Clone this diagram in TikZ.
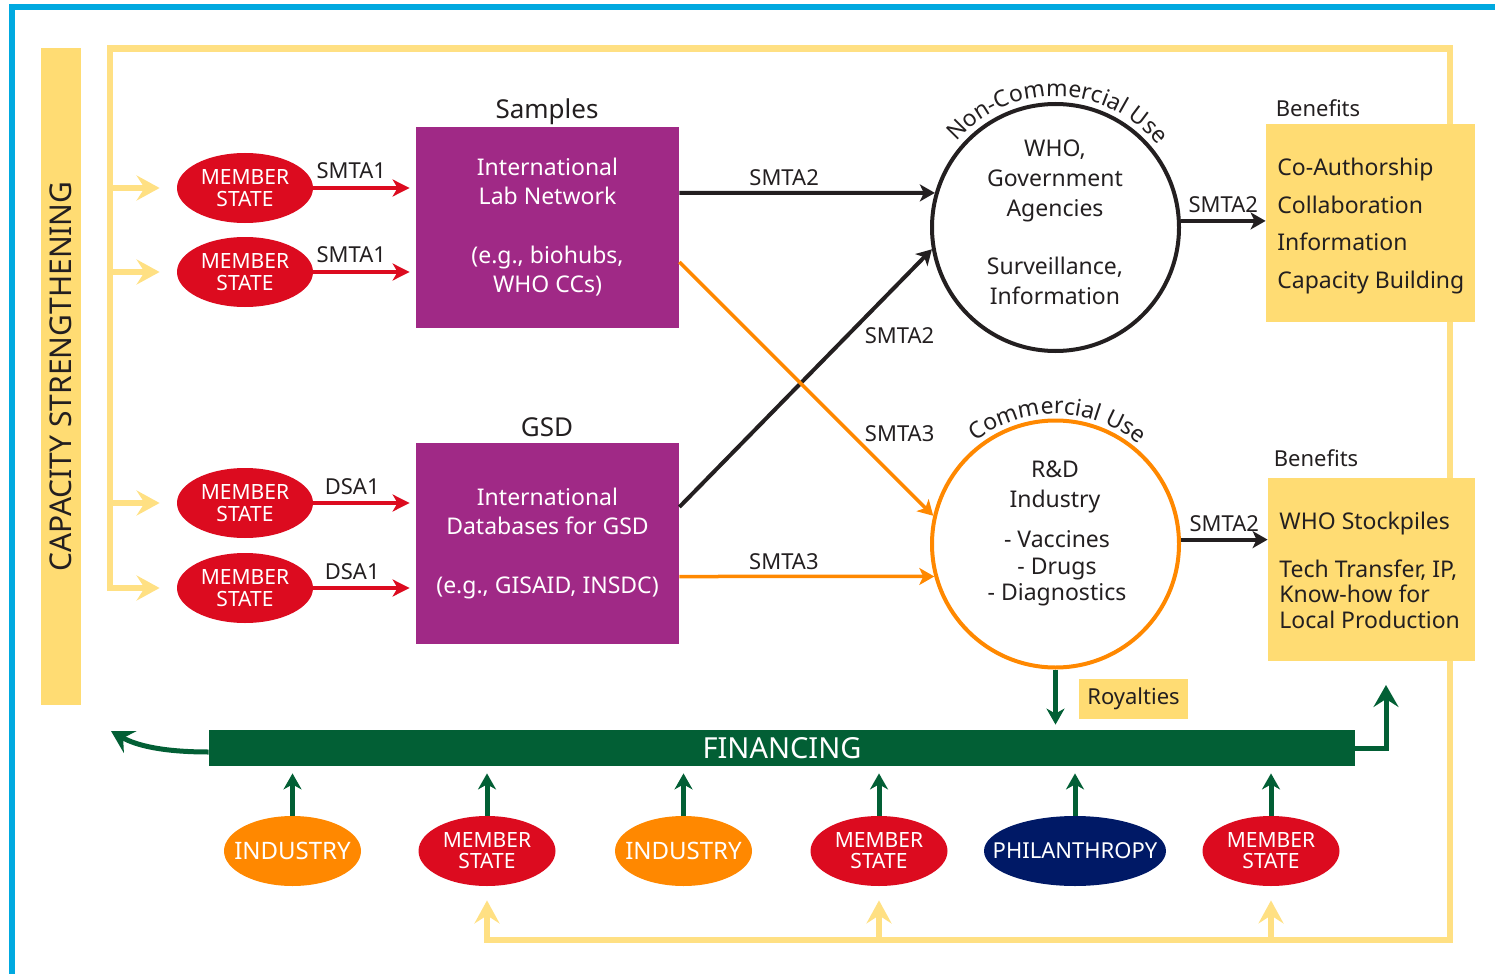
\documentclass[tikz,border=0pt]{standalone}
\usepackage{fontspec}
\setmainfont{Noto Sans}
\usetikzlibrary{arrows.meta,decorations.text,shapes.geometric,calc}
\definecolor{frameblue}{HTML}{00A9E0}
\definecolor{yelbox}{HTML}{FFDC73}
\definecolor{yelline}{HTML}{FFE083}
\definecolor{msred}{HTML}{DC0B1F}
\definecolor{purp}{HTML}{A02986}
\definecolor{orng}{HTML}{FF8800}
\definecolor{dgreen}{HTML}{025F35}
\definecolor{navy}{HTML}{001966}
\definecolor{ink}{HTML}{231F20}
\newcommand{\fsz}[2]{\fontsize{#1}{#2}\selectfont}
\newcommand{\nobox}[1]{\makebox[0pt]{#1}}
\tikzset{
  msleft/.style={ellipse, fill=msred, text=white, minimum width=68pt, minimum height=35pt, inner sep=0pt, align=center, font=\fsz{10.5}{11}},
  msbot/.style={ellipse, fill=msred, text=white, minimum width=68.5pt, minimum height=35pt, inner sep=0pt, align=center, font=\fsz{10.5}{10.5}},
  indus/.style={msbot, fill=orng, font=\fsz{12}{13}},
  phil/.style={msbot, fill=navy, minimum width=91pt, font=\fsz{11}{12}},
  purpbox/.style={rectangle, fill=purp, minimum width=131.5pt, minimum height=100.5pt, inner sep=0pt, text=white, align=center, font=\fsz{11.5}{14.5}},
  benbox/.style={rectangle, fill=yelbox, inner sep=0pt},
  lbl/.style={text=ink, font=\fsz{11}{13}, inner sep=1pt},
  txt/.style={text=ink, align=center, font=\fsz{11.5}{15}},
  redarr/.style={draw=msred, line width=2pt, -{Stealth[length=8.5pt,width=8.5pt,inset=2.5pt]}},
  blkarr/.style={draw=ink, line width=2pt, -{Stealth[length=7.5pt,width=8.5pt,inset=2pt]}},
  orarr/.style={draw=orng, line width=1.75pt, -{Stealth[length=7.5pt,width=8.5pt,inset=2pt]}},
  grarr/.style={draw=dgreen, line width=2.5pt, -{Stealth[length=8pt,width=9pt,inset=2.5pt]}},
  grbig/.style={draw=dgreen, line width=2.5pt, -{Stealth[length=11pt,width=12.5pt,inset=4pt]}},
  yelarr/.style={draw=yelline, line width=3.25pt, -{Stealth[length=11.5pt,width=12.5pt,inset=4pt]}},
  yelpath/.style={draw=yelline, line width=3.25pt, line join=miter},
}
\begin{document}
\begin{tikzpicture}[x=0.5pt,y=0.5pt]
\useasboundingbox (0,0) rectangle (1495,-974);
% frame
\draw[frameblue, line width=3pt, line join=miter] (12,-974) -- (12,-7) -- (1495,-7);

% capacity strengthening bar
\node[fill=yelbox, rotate=90, minimum width=328.5pt, minimum height=20pt, inner sep=0pt, text=ink, font=\fsz{15}{17}] (cap) at (61,-376.5) {CAPACITY STRENGTHENING};

% left member states
\node[msleft] (ms1) at (245,-188) {MEMBER\\STATE};
\node[msleft] (ms2) at (245,-272) {MEMBER\\STATE};
\node[msleft] (ms3) at (245,-503) {MEMBER\\STATE};
\node[msleft] (ms4) at (245,-588) {MEMBER\\STATE};

% bottom contributors
\node[indus] (mb1) at (292.5,-851) {\nobox{INDUSTRY}};
\node[msbot] (mb2) at (487,-851) {MEMBER\\STATE};
\node[indus] (mb3) at (683.5,-851) {\nobox{INDUSTRY}};
\node[msbot] (mb4) at (879,-851) {MEMBER\\STATE};
\node[phil]  (mb5) at (1075,-851) {\nobox{PHILANTHROPY}};
\node[msbot] (mb6) at (1271,-851) {MEMBER\\STATE};

% yellow capacity loop
\coordinate (ylx) at (110,0);
\coordinate (ybot) at (0,-940);
\draw[yelpath, {Stealth[length=11.5pt,width=12.5pt,inset=4pt]}-{Stealth[length=11.5pt,width=12.5pt,inset=4pt]}]
  ([xshift=-8.5pt]ms4.west) -- (ylx |- ms4.west) -- (110,-48.5) -- (1450,-48.5) -- (1450,-940) -- (mb2 |- ybot) -- ([yshift=-7pt]mb2.south);
\draw[yelarr] (ylx |- ms1.west) -- ([xshift=-8.5pt]ms1.west);
\draw[yelarr] (ylx |- ms2.west) -- ([xshift=-8.5pt]ms2.west);
\draw[yelarr] (ylx |- ms3.west) -- ([xshift=-8.5pt]ms3.west);
\draw[yelarr] (mb4 |- ybot) -- ([yshift=-7pt]mb4.south);
\draw[yelarr] (mb6 |- ybot) -- ([yshift=-7pt]mb6.south);

% purple boxes
\node[purpbox] (b1) at (547.5,-227.5) {International\\Lab Network\\[15pt](e.g., biohubs,\\WHO CCs)};
\node[purpbox] (b2) at (547.5,-543.5) {International\\Databases for GSD\\[15pt](e.g., GISAID, INSDC)};
\node[text=ink, font=\fsz{13}{15}] (samp) at (547,-112) {Samples};
\node[text=ink, font=\fsz{13}{15}] (gsd) at (547,-427) {GSD};

% red arrows
\draw[redarr, shorten >=3pt] (ms1.east) -- (ms1.east -| b1.west) node[lbl, pos=0.37, above=2.5pt] {SMTA1};
\draw[redarr, shorten >=3pt] (ms2.east) -- (ms2.east -| b1.west) node[lbl, pos=0.37, above=2.5pt] {SMTA1};
\draw[redarr, shorten >=3pt] (ms3.east) -- (ms3.east -| b2.west) node[lbl, pos=0.38, above=2pt] {DSA1};
\draw[redarr, shorten >=3pt] (ms4.east) -- (ms4.east -| b2.west) node[lbl, pos=0.38, above=2pt] {DSA1};

% use circles
\node[circle, draw=ink, line width=2pt, minimum size=123.5pt, inner sep=0pt] (nc) at (1055.5,-227.5) {};
\node[circle, draw=orng, line width=2pt, minimum size=123.5pt, inner sep=0pt] (cc) at (1055.5,-544) {};
\node[txt] (nct1) at (1055,-181) {WHO,\\Government\\Agencies};
\node[txt] (nct2) at (1055,-281) {Surveillance,\\Information};
\node[txt] (cct1) at (1055,-487) {R\&D\\Industry};
\node[txt, font=\fsz{11.5}{13.25}] (cct2) at (1057,-568.5) {- Vaccines\\- Drugs\\- Diagnostics};
\path[decorate, decoration={text along path, text align=center, text={|\fsz{11.5}{13}\color{ink}|Non-Commercial Use}}]
  (nc.center) ++(160:131) arc[start angle=160, end angle=18, radius=131];
\path[decorate, decoration={text along path, text align=center, text={|\fsz{11.5}{13}\color{ink}|Commercial Use}}]
  (cc.center) ++(150:130) arc[start angle=150, end angle=28, radius=130];

% middle arrows
\draw[blkarr] ([yshift=17.25pt]b1.east) -- (nc.164) node[lbl, pos=0.41, above=1.5pt] {SMTA2};
\draw[blkarr] ([yshift=18.25pt]b2.east) -- (nc.190) node[lbl, pos=0.663, anchor=west, xshift=7pt] {SMTA2};
\draw[orarr] ([yshift=-17.25pt]b1.east) -- (cc.167) node[lbl, pos=0.677, anchor=west, xshift=5pt] {SMTA3};
\draw[orarr] ([yshift=-16.5pt]b2.east) -- (cc.195) node[lbl, pos=0.41, above=1.5pt] {SMTA3};

% benefits
\node[benbox, minimum width=104.5pt, minimum height=99pt] (ben1) at (1370.5,-223) {};
\node[benbox, minimum width=103.5pt, minimum height=91.5pt] (ben2) at (1371.5,-569.5) {};
\node[anchor=west, align=left, text=ink, font=\fsz{11.5}{18.75}, inner sep=0pt] (ben1t) at (1277,-226) {Co-Authorship\\Collaboration\\Information\\Capacity Building};
\node[anchor=west, align=left, text=ink, font=\fsz{11.5}{12.75}, inner sep=0pt] (ben2t) at (1279,-570) {WHO Stockpiles\\[11.25pt]Tech Transfer, IP,\\Know-how for\\Local Production};
\node[lbl] (ben1l) at (1318,-108) {Benefits};
\node[lbl] (ben2l) at (1316,-458) {Benefits};
\draw[blkarr] (nc.3) -- (nc.3 -| ben1.west) node[lbl, midway, above=2pt] {SMTA2};
\draw[blkarr] (cc.2) -- (cc.2 -| ben2.west) node[lbl, midway, above=2pt] {SMTA2};

% financing
\node[fill=dgreen, minimum width=573pt, minimum height=18pt, inner sep=0pt, text=white, font=\fsz{14.5}{16}] (fin) at (782,-748) {FINANCING};
\node[fill=yelbox, minimum width=54.5pt, minimum height=20pt, inner sep=0pt, text=ink, font=\fsz{11}{13}] (roy) at (1133.5,-699) {Royalties};
\draw[grarr, shorten >=2.5pt] (cc.south) -- (cc.south |- fin.north);
\foreach \m in {mb1,mb2,mb3,mb4,mb5,mb6}
  \draw[grarr, shorten >=3.5pt] (\m.north) -- (\m.north |- fin.south);
\draw[grbig] ([yshift=-2pt]fin.west) .. controls (165,-752) and (137,-746) .. (111,-731);
\coordinate (rup) at (1386,-685);
\draw[grbig, line join=miter] (fin.east) -| (rup);
\end{tikzpicture}
\end{document}
